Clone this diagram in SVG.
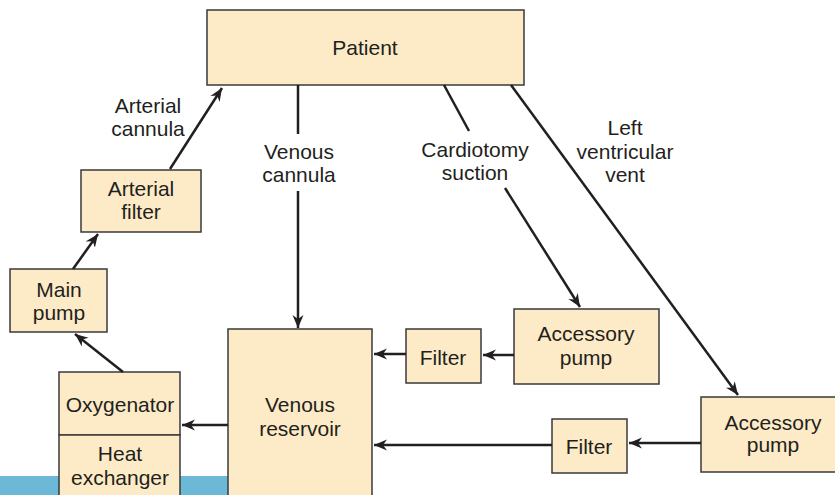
<svg xmlns="http://www.w3.org/2000/svg" width="835" height="495" viewBox="0 0 835 495">
<style>
.box{fill:#FDEBC7;stroke:#3a3a3a;stroke-width:1.5}
.t{font-family:"Liberation Sans",Arial,sans-serif;font-size:21px;fill:#231F20;text-anchor:middle}
.c{stroke:#231F20;stroke-width:2.5;fill:none}
.a{marker-end:url(#arr)}
</style>
<defs>
<marker id="arr" markerUnits="userSpaceOnUse" viewBox="-13 -6 14 12" refX="0" refY="0" markerWidth="14" markerHeight="12" orient="auto">
<path d="M0,0 L-13,-5.5 L-9,0 L-13,5.5 Z" fill="#231F20"/>
</marker>
</defs>
<rect x="0" y="476" width="228" height="19" fill="#6CB8D7"/>
<g id="patient"><rect class="box" x="207" y="10" width="317" height="75"/><text class="t" x="365" y="55">Patient</text></g>
<g id="arterial-filter"><rect class="box" x="81" y="170" width="120" height="62"/><text class="t" x="141" y="196">Arterial</text><text class="t" x="141" y="219">filter</text></g>
<g id="main-pump"><rect class="box" x="10" y="269" width="97" height="63"/><text class="t" x="59" y="297">Main</text><text class="t" x="59" y="320">pump</text></g>
<g id="oxygenator"><rect class="box" x="59" y="372" width="121" height="63"/><text class="t" x="120" y="412">Oxygenator</text></g>
<g id="heat-exchanger"><rect class="box" x="59" y="435" width="121" height="65"/><text class="t" x="120" y="461">Heat</text><text class="t" x="120" y="485">exchanger</text></g>
<g id="venous-reservoir"><rect class="box" x="228" y="329" width="144" height="171"/><text class="t" x="300" y="412">Venous</text><text class="t" x="300" y="436">reservoir</text></g>
<g id="filter1"><rect class="box" x="406" y="329" width="75" height="54"/><text class="t" x="443" y="365">Filter</text></g>
<g id="accessory-pump1"><rect class="box" x="514" y="309" width="145" height="75"/><text class="t" x="586" y="341">Accessory</text><text class="t" x="586" y="365">pump</text></g>
<g id="filter2"><rect class="box" x="552" y="419" width="75" height="54"/><text class="t" x="589" y="454">Filter</text></g>
<g id="accessory-pump2"><rect class="box" x="701" y="397" width="140" height="75"/><text class="t" x="773" y="430">Accessory</text><text class="t" x="773" y="452">pump</text></g>
<g id="connectors">
<line class="c a" x1="170" y1="169" x2="222" y2="88"/>
<line class="c a" x1="73" y1="269" x2="98" y2="234"/>
<line class="c a" x1="123" y1="372" x2="75" y2="334"/>
<line class="c a" x1="228" y1="425" x2="182" y2="425"/>
<line class="c" x1="298" y1="85" x2="298" y2="134"/>
<line class="c a" x1="298" y1="191" x2="298" y2="328"/>
<line class="c a" x1="406" y1="354" x2="374" y2="354"/>
<line class="c a" x1="514" y1="355" x2="483" y2="355"/>
<line class="c a" x1="552" y1="445" x2="374" y2="445"/>
<line class="c a" x1="701" y1="443" x2="629" y2="443"/>
<line class="c" x1="444" y1="85" x2="469" y2="131"/>
<line class="c a" x1="505" y1="188" x2="580" y2="307"/>
<line class="c a" x1="511" y1="85" x2="738" y2="395"/>
</g>
<g id="labels">
<text class="t" x="148" y="113">Arterial</text><text class="t" x="148" y="136">cannula</text>
<text class="t" x="299" y="159">Venous</text><text class="t" x="299" y="182">cannula</text>
<text class="t" x="475" y="157">Cardiotomy</text><text class="t" x="475" y="180">suction</text>
<text class="t" x="625" y="135">Left</text><text class="t" x="625" y="159">ventricular</text><text class="t" x="625" y="182">vent</text>
</g>
</svg>
